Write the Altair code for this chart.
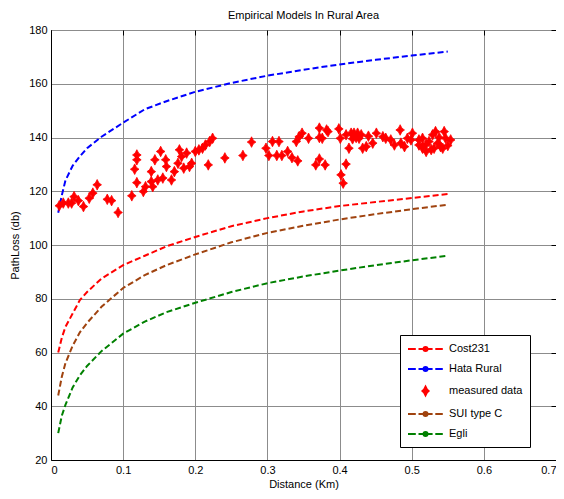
import altair as alt
import pandas as pd

# ---------------- data ----------------
dist = [0.01, 0.015, 0.02, 0.03, 0.04, 0.05, 0.07, 0.10, 0.13, 0.16, 0.20,
        0.25, 0.30, 0.35, 0.40, 0.45, 0.50, 0.55]
cost231 = [60, 65.5, 69.5, 74.5, 79.5, 82.5, 87.5, 92.5, 96, 99.5, 103,
           107, 110, 112.5, 114.5, 116, 117.5, 119]
hata_rural = [112, 118.5, 124, 129.5, 133, 136, 140.3, 145.5, 150.5, 153.5, 157,
              160.3, 163, 165.2, 167.2, 168.9, 170.5, 172]
sui_type_c = [44, 51, 56, 62.5, 67.5, 71, 77, 84, 88.8, 92.5, 96.5,
              101, 104.5, 107.2, 109.5, 111.5, 113.3, 115]
egli = [30, 36.5, 40.5, 47, 51.5, 55, 60.5, 67, 71.5, 75, 78.5,
        82.5, 85.8, 88.3, 90.5, 92.5, 94.3, 96]

meas_x = [0.0115, 0.017, 0.024, 0.0286, 0.032, 0.038, 0.045, 0.053, 0.058, 0.064,
          0.078, 0.084, 0.093, 0.112, 0.116, 0.119, 0.119, 0.119, 0.128, 0.131,
          0.139, 0.139, 0.141, 0.144, 0.148, 0.152, 0.155, 0.159, 0.160, 0.167,
          0.171, 0.176, 0.178, 0.181, 0.184, 0.188, 0.192, 0.195, 0.200, 0.205,
          0.210, 0.214, 0.218, 0.220, 0.224, 0.241, 0.266, 0.278, 0.298, 0.302,
          0.307, 0.316, 0.313, 0.320, 0.328, 0.334, 0.342, 0.340, 0.344, 0.348,
          0.357, 0.367, 0.372, 0.372, 0.372, 0.380, 0.382, 0.376, 0.384, 0.399,
          0.401, 0.402, 0.405, 0.409, 0.409, 0.413, 0.416, 0.420, 0.425, 0.427,
          0.432, 0.437, 0.446, 0.451, 0.460, 0.464, 0.471, 0.476, 0.484, 0.485,
          0.490, 0.494, 0.501, 0.499, 0.510, 0.515, 0.510, 0.515, 0.520, 0.524,
          0.529, 0.533, 0.536, 0.540, 0.545, 0.547, 0.554, 0.531, 0.543, 0.515,
          0.418, 0.423, 0.430, 0.440, 0.520, 0.527, 0.538, 0.550]
meas_y = [114.6, 115.6, 115.6, 115.6, 118, 116.5, 114.3, 117.4, 119.3, 122.4,
          117, 116.5, 112.1, 118.3, 128.2, 133.5, 131.7, 123.2, 119.9, 121.7,
          127.3, 123.6, 121.7, 131.7, 124.2, 134.8, 124.9, 131.7, 129.2, 124.2,
          127.3, 130.4, 135.4, 132.9, 128.6, 134.2, 129.2, 130.4, 134.8, 135.4,
          136, 137.2, 129.8, 138.5, 139.7, 132.4, 133.3, 138.3, 136, 133.3,
          138.5, 138.5, 133.3, 133.3, 134.8, 132.5, 131.3, 138.5, 140.3, 141.6,
          139.7, 129.8, 143.5, 140, 132, 129.8, 142.8, 139.7, 142.2, 143.2,
          139.7, 126.1, 123, 130.1, 141, 136, 141.6, 141.6, 141.6, 139.7,
          136, 136.6, 137.9, 141.6, 140.3, 139.7, 139.1, 137.2, 142.8, 137.9,
          136.6, 139.7, 141.6, 139.1, 137.2, 136, 139.1, 136.6, 134.8, 138.5,
          141, 142.2, 137.9, 136.6, 142.2, 139.7, 139.1, 136, 136, 139.7,
          139.5, 140, 141, 140.5, 137.5, 135.5, 140, 137]

curve_names = ["Cost231", "Hata Rural", "SUI type C", "Egli"]
curve_colors = ["#ff0000", "#0000ff", "#a0430f", "#008000"]
legend_names = ["Cost231", "Hata Rural", "measured data", "SUI type C", "Egli"]
legend_colors = ["#ff0000", "#0000ff", "#ff0000", "#a0430f", "#008000"]
x_ticks = [0, 0.1, 0.2, 0.3, 0.4, 0.5, 0.6, 0.7]
y_ticks = [20, 40, 60, 80, 100, 120, 140, 160, 180]

# ---------------- tables ----------------
rows = []
for name, vals in zip(curve_names, [cost231, hata_rural, sui_type_c, egli]):
    for d, v in zip(dist, vals):
        rows.append({"distance": d, "loss": v, "series": name})
curves = pd.DataFrame(rows)
meas = pd.DataFrame({"distance": meas_x, "loss": meas_y})
legend_df = pd.DataFrame({"series": legend_names})

FONT = "Liberation Sans, Arial, sans-serif"

line_sym = ("M-1,0H0.3M0.75,0H1.5M1.57,0A0.35,0.35 0 1,0 2.27,0"
            "A0.35,0.35 0 1,0 1.57,0ZM2.35,0H3.1M3.55,0H4.8")
star_leg = "M1.92,-0.75L2.17,-0.25L2.45,0L2.17,0.25L1.92,0.75L1.67,0.25L1.39,0L1.67,-0.25Z"
star = "M0,-0.88L0.3,-0.3L0.72,0L0.3,0.3L0,0.88L-0.3,0.3L-0.72,0L-0.3,-0.3Z"
legend_shapes = [line_sym, line_sym, star_leg, line_sym, line_sym]

x_scale = alt.Scale(domain=[0, 0.7], nice=False, zero=False)
y_scale = alt.Scale(domain=[20, 180], nice=False, zero=False)

lines = alt.Chart(curves).mark_line(strokeDash=[6, 3], strokeWidth=2).encode(
    x=alt.X("distance:Q", scale=x_scale,
            axis=alt.Axis(values=x_ticks, format="~g", title="Distance (Km)",
                          grid=True, ticks=False, labelPadding=4, titlePadding=3)),
    y=alt.Y("loss:Q", scale=y_scale,
            axis=alt.Axis(values=y_ticks, title="PathLoss (db)",
                          grid=True, ticks=False, labelPadding=4, titlePadding=8)),
    color=alt.Color("series:N", scale=alt.Scale(domain=curve_names, range=curve_colors),
                    legend=None),
    order=alt.Order("distance:Q"),
)

points = alt.Chart(meas).mark_point(shape=star, size=144, filled=True, color="#ff0000",
                                    opacity=1, strokeWidth=0.8, stroke="#ff0000").encode(
    x=alt.X("distance:Q", scale=x_scale,
            axis=alt.Axis(orient="top", values=x_ticks, labels=False, domain=False,
                          grid=False, ticks=True, tickSize=5, offset=-5,
                          tickColor="black", title=None)),
    y=alt.Y("loss:Q", scale=y_scale,
            axis=alt.Axis(orient="right", values=y_ticks, labels=False, domain=False,
                          grid=False, ticks=True, tickSize=5, offset=-5,
                          tickColor="black", title=None)),
)

leg = dict(orient="none", legendX=349, legendY=305, title=None, symbolSize=144,
           labelOffset=28, rowPadding=7, padding=7, strokeColor="black",
           fillColor="white", labelFontSize=11, labelFont=FONT, labelColor="black",
           symbolStrokeWidth=1.8, symbolOpacity=1, cornerRadius=0)

legend_layer = alt.Chart(legend_df).mark_point(size=0, filled=True, opacity=1,
                                               strokeWidth=1.8).encode(
    fill=alt.Fill("series:N", scale=alt.Scale(domain=legend_names, range=legend_colors),
                  legend=alt.Legend(**leg)),
    stroke=alt.Stroke("series:N", scale=alt.Scale(domain=legend_names, range=legend_colors),
                      legend=alt.Legend(**leg)),
    shape=alt.Shape("series:N", scale=alt.Scale(domain=legend_names, range=legend_shapes),
                    legend=alt.Legend(**leg)),
)

chart = alt.layer(lines, points, legend_layer).resolve_axis(
    x="independent", y="independent"
).properties(
    width=505, height=430,
    title=alt.TitleParams("Empirical Models In Rural Area", fontSize=11,
                          fontWeight="normal", font=FONT, color="black", offset=3),
    autosize=alt.AutoSizeParams(type="none"),
    padding={"left": 43, "top": 22, "right": 0, "bottom": 30},
).configure_view(
    stroke="black", strokeWidth=1
).configure_axis(
    labelFont=FONT, labelFontSize=11, labelColor="black",
    titleFont=FONT, titleFontSize=11, titleFontWeight="normal", titleColor="black",
    gridColor="#8c8c8c", gridWidth=1, gridOpacity=1,
    domainColor="black", domainWidth=1,
)

chart.save("out.html", embed_options={"renderer": "svg", "actions": False})
